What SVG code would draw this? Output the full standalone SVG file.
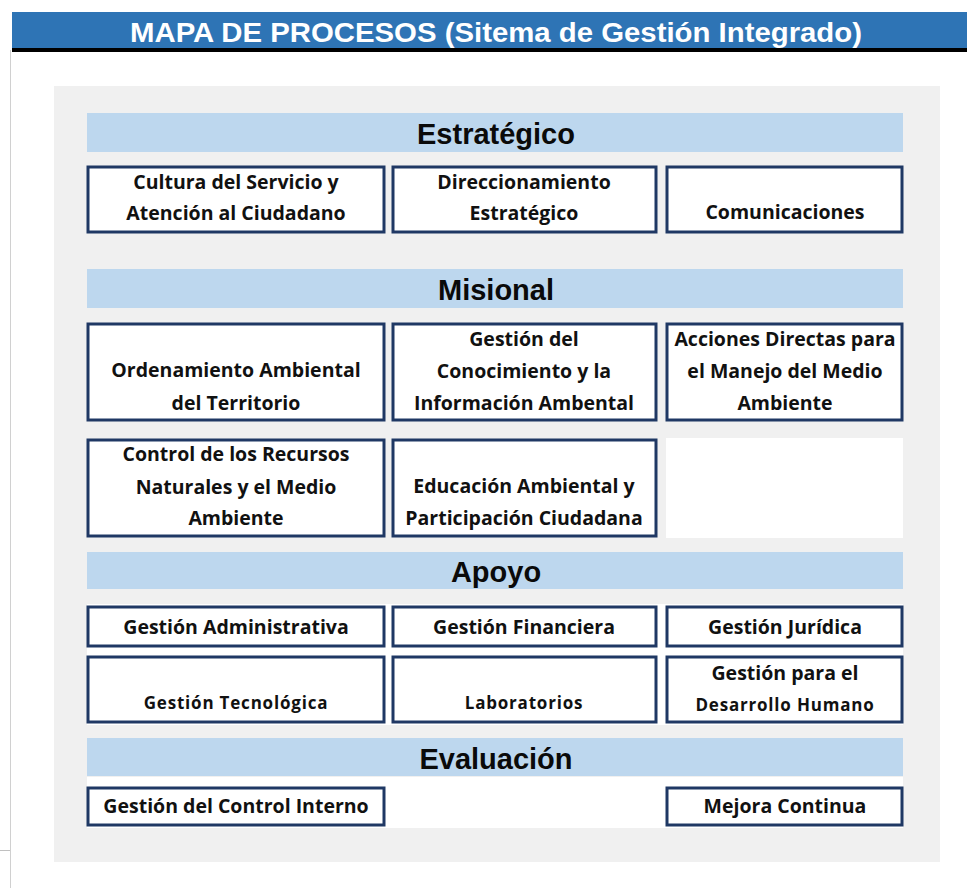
<svg xmlns="http://www.w3.org/2000/svg" width="967" height="888" viewBox="0 0 967 888">
<style>
.hdr{fill:#BDD7EE}
.hdrt{font-family:"Liberation Sans",Arial,sans-serif;font-weight:bold;font-size:29px;fill:#0a0a0a;text-anchor:middle}
.box{fill:#fff;stroke:#1F3864;stroke-width:3}
.t{font-family:"Open Sans","Liberation Sans",sans-serif;font-weight:bold;font-size:19.5px;fill:#111;text-anchor:middle}
.s{font-size:17px;letter-spacing:0.8px}
</style>
<rect width="967" height="888" fill="#fff"/>
<line x1="10.5" y1="50" x2="10.5" y2="888" stroke="#d0d0d0" stroke-width="1"/>
<line x1="0" y1="850.5" x2="10" y2="850.5" stroke="#c0c0c0" stroke-width="1"/>
<rect x="12" y="12" width="955" height="37" fill="#2E74B5"/>
<rect x="12" y="48" width="955" height="4" fill="#000"/>
<text x="496" y="42" font-family="'Liberation Sans',Arial,sans-serif" font-weight="bold" font-size="28" fill="#fff" text-anchor="middle" textLength="732" lengthAdjust="spacingAndGlyphs">MAPA DE PROCESOS (Sitema de Gestión Integrado)</text>
<rect x="54" y="86" width="886" height="776" fill="#F0F0F0"/>
<g id="hdr-estrategico"><rect class="hdr" x="87" y="113" width="816" height="39"/><text class="hdrt" x="496" y="144">Estratégico</text></g>
<g id="hdr-misional"><rect class="hdr" x="87" y="269" width="816" height="39"/><text class="hdrt" x="496" y="300">Misional</text></g>
<g id="hdr-apoyo"><rect class="hdr" x="87" y="552" width="816" height="37"/><text class="hdrt" x="496" y="582">Apoyo</text></g>
<g id="hdr-evaluacion"><rect class="hdr" x="87" y="738" width="816" height="38"/><text class="hdrt" x="496" y="769">Evaluación</text></g>
<rect x="666" y="438" width="237" height="100" fill="#fff"/>
<rect x="87" y="604" width="816" height="121" fill="#fff"/>
<rect x="87" y="777" width="816" height="51" fill="#fff"/>
<g id="n1"><rect class="box" x="88" y="167" width="296" height="65"/><text class="t" x="236" y="189">Cultura del Servicio y</text><text class="t" x="236" y="220">Atención al Ciudadano</text></g>
<g id="n2"><rect class="box" x="393" y="167" width="263" height="65"/><text class="t" x="524" y="189">Direccionamiento</text><text class="t" x="524" y="220">Estratégico</text></g>
<g id="n3"><rect class="box" x="667" y="167" width="235" height="65"/><text class="t" x="785" y="219">Comunicaciones</text></g>
<g id="n4"><rect class="box" x="88" y="324" width="296" height="96"/><text class="t" x="236" y="377">Ordenamiento Ambiental</text><text class="t" x="236" y="410">del Territorio</text></g>
<g id="n5"><rect class="box" x="393" y="324" width="263" height="96"/><text class="t" x="524" y="346">Gestión del</text><text class="t" x="524" y="378">Conocimiento y la</text><text class="t" x="524" y="410">Información Ambental</text></g>
<g id="n6"><rect class="box" x="667" y="324" width="235" height="96"/><text class="t" x="785" y="346">Acciones Directas para</text><text class="t" x="785" y="378">el Manejo del Medio</text><text class="t" x="785" y="410">Ambiente</text></g>
<g id="n7"><rect class="box" x="88" y="440" width="296" height="96"/><text class="t" x="236" y="461">Control de los Recursos</text><text class="t" x="236" y="494">Naturales y el Medio</text><text class="t" x="236" y="525">Ambiente</text></g>
<g id="n8"><rect class="box" x="393" y="440" width="263" height="96"/><text class="t" x="524" y="493">Educación Ambiental y</text><text class="t" x="524" y="525">Participación Ciudadana</text></g>
<g id="n9"><rect class="box" x="88" y="607" width="296" height="39"/><text class="t" x="236" y="634">Gestión Administrativa</text></g>
<g id="n10"><rect class="box" x="393" y="607" width="263" height="39"/><text class="t" x="524" y="634">Gestión Financiera</text></g>
<g id="n11"><rect class="box" x="667" y="607" width="235" height="39"/><text class="t" x="785" y="634">Gestión Jurídica</text></g>
<g id="n12"><rect class="box" x="88" y="657" width="296" height="65"/><text class="t s" x="236" y="709">Gestión Tecnológica</text></g>
<g id="n13"><rect class="box" x="393" y="657" width="263" height="65"/><text class="t s" x="524" y="709">Laboratorios</text></g>
<g id="n14"><rect class="box" x="667" y="657" width="235" height="65"/><text class="t" x="785" y="680">Gestión para el</text><text class="t s" x="785" y="711">Desarrollo Humano</text></g>
<g id="n15"><rect class="box" x="88" y="788" width="296" height="37"/><text class="t" x="236" y="813">Gestión del Control Interno</text></g>
<g id="n16"><rect class="box" x="667" y="788" width="235" height="37"/><text class="t" x="785" y="813">Mejora Continua</text></g>
<g id="connectors"></g>
</svg>
